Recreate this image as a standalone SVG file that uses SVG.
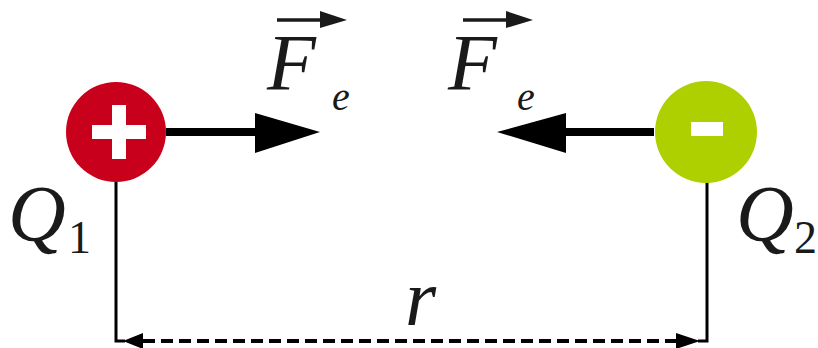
<svg xmlns="http://www.w3.org/2000/svg" width="818" height="348" viewBox="0 0 818 348">
<defs>
<style>
.t{font-family:"Liberation Serif","Times New Roman",serif;font-style:italic;fill:#1a1a1a}
.big{font-size:80px}
.sub{font-size:40px}
.num{font-family:"Liberation Serif","Times New Roman",serif;font-style:normal;fill:#1a1a1a;font-size:46px}
.force{stroke:#000;stroke-width:8;fill:none}
.lead{stroke:#000;stroke-width:3;fill:none}
.dash{stroke:#000;stroke-width:4;fill:none;stroke-dasharray:12 6}
.vec{stroke:#1a1a1a;stroke-width:3.5;fill:none}
</style>
</defs>
<rect width="818" height="348" fill="#fff"/>
<g id="connectors">
<line class="force" x1="166" y1="132" x2="258" y2="132"/>
<polygon points="255,113 320,132 255,153" fill="#000"/>
<line class="force" x1="654" y1="132" x2="563" y2="132"/>
<polygon points="566,113 497,132 566,153" fill="#000"/>
<polyline class="lead" points="116,182 116,341 125,341"/>
<polyline class="lead" points="707,182 707,341 698,341"/>
<line class="dash" x1="143" y1="341" x2="676" y2="341"/>
<polygon points="123,341 143,333 143,349" fill="#000"/>
<polygon points="700,341 676,333 676,349" fill="#000"/>
</g>
<g id="q1">
<circle cx="116" cy="132" r="50" fill="#C9001C"/>
<rect x="92" y="125" width="54" height="14" fill="#fff"/>
<rect x="112" y="105" width="14" height="54" fill="#fff"/>
<text class="t big" x="8" y="241">Q</text>
<text class="num" x="68" y="253">1</text>
</g>
<g id="q2">
<circle cx="706" cy="132" r="51" fill="#AFD000"/>
<rect x="691" y="122" width="32" height="14" fill="#fff"/>
<text class="t big" x="736" y="241">Q</text>
<text class="num" x="794" y="253">2</text>
</g>
<g id="f1">
<line class="vec" x1="277" y1="20" x2="330" y2="20"/>
<polygon points="320,11 347,20 320,28" fill="#1a1a1a"/>
<text class="t big" x="267" y="90">F</text>
<text class="t sub" x="332" y="110">e</text>
</g>
<g id="f2">
<line class="vec" x1="463" y1="20" x2="516" y2="20"/>
<polygon points="506,11 533,20 506,28" fill="#1a1a1a"/>
<text class="t big" x="448" y="90">F</text>
<text class="t sub" x="517" y="110">e</text>
</g>
<g id="dist">
<text class="t big" x="405" y="325">r</text>
</g>
</svg>
